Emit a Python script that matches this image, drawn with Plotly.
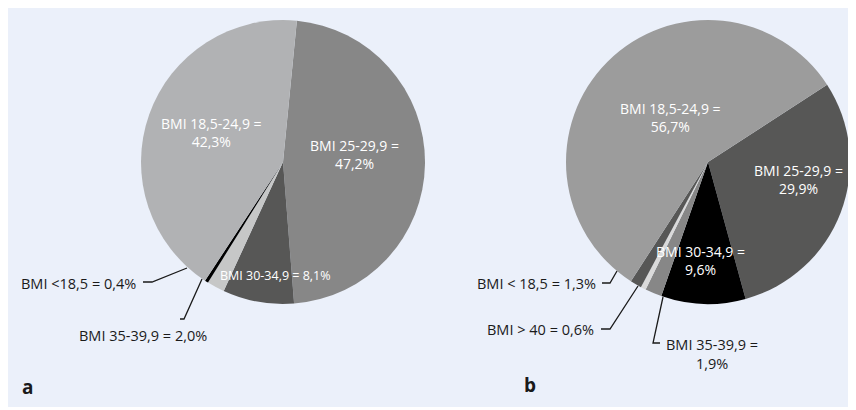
import plotly.graph_objects as go

OFF = 8  # page body margin offset
W, H = 856 - OFF, 410 - OFF

# ---- data ----
cats_a = ["BMI 25-29,9", "BMI 30-34,9", "BMI 35-39,9", "BMI <18,5", "BMI 18,5-24,9"]
vals_a = [47.2, 8.1, 2.0, 0.4, 42.3]
cols_a = ["#878787", "#575756", "#c6c7c7", "#000000", "#b1b2b4"]

cats_b = ["BMI 25-29,9", "BMI 30-34,9", "BMI 35-39,9", "BMI > 40", "BMI < 18,5", "BMI 18,5-24,9"]
vals_b = [29.9, 9.6, 1.9, 0.6, 1.3, 56.7]
cols_b = ["#575756", "#000000", "#878787", "#dadada", "#575756", "#9c9c9c"]

panel_labels = ["a", "b"]


def fmt(cat, v, br):
    return f"{cat} ={'<br>' if br else ' '}{v:.1f}%".replace(".", ",")


def px(x, y):
    return (x - OFF) / W, 1 - (y - OFF) / H


def dom(cx, cy, r):
    x0, y1 = px(cx - r, cy - r)
    x1, y0 = px(cx + r, cy + r)
    return dict(x=[x0, x1], y=[y0, y1])


fig = go.Figure()
fig.add_trace(go.Pie(values=vals_a, labels=cats_a, marker=dict(colors=cols_a, line=dict(width=0)),
                     sort=False, direction="clockwise", rotation=5.6, textinfo="none",
                     domain=dom(283, 162, 142), showlegend=False))
fig.add_trace(go.Pie(values=vals_b, labels=cats_b, marker=dict(colors=cols_b, line=dict(width=0)),
                     sort=False, direction="clockwise", rotation=57, textinfo="none",
                     domain=dom(708, 162, 142), showlegend=False))

FONT = "Open Sans"
annots = []


def add(text, x, y, color, size=14, xanchor="center", bold=False):
    xp, yp = px(x, y)
    annots.append(dict(text=f"<b>{text}</b>" if bold else text, x=xp, y=yp, xref="paper", yref="paper",
                       xanchor=xanchor, yanchor="middle", showarrow=False, align="center",
                       font=dict(family=FONT, size=size, color=color)))


# pie a labels
add(fmt(cats_a[4], vals_a[4], True), 211, 133, "white")
add(fmt(cats_a[0], vals_a[0], True), 354, 154, "white")
add(fmt(cats_a[1], vals_a[1], False), 275, 275, "white", size=12.5)
add(fmt(cats_a[3], vals_a[3], False), 138, 283, "#1a1a1a", size=14.5, xanchor="right")
add(fmt(cats_a[2], vals_a[2], False), 143, 335, "#1a1a1a", size=14.5)
# pie b labels
add(fmt(cats_b[5], vals_b[5], True), 670, 118, "white")
add(fmt(cats_b[0], vals_b[0], True), 798, 179, "white")
add(fmt(cats_b[1], vals_b[1], True), 700, 260, "white")
add(fmt(cats_b[4], vals_b[4], False), 598, 283, "#1a1a1a", size=14.5, xanchor="right")
add(fmt(cats_b[3], vals_b[3], False), 596, 329, "#1a1a1a", size=14.5, xanchor="right")
add(fmt(cats_b[2], vals_b[2], True), 712, 354, "#1a1a1a", size=14.5)
# panel letters
add(panel_labels[0], 27, 387, "#1a1a1a", size=19, bold=True)
add(panel_labels[1], 530, 385, "#1a1a1a", size=19, bold=True)


def path(pts):
    s = ""
    for i, (x, y) in enumerate(pts):
        xp, yp = px(x, y)
        s += ("M" if i == 0 else "L") + f"{xp},{yp} "
    return s.strip()


leaders = [
    [(143, 282), (152, 282), (187, 268)],
    [(180, 319), (184, 319), (202, 279)],
    [(602, 283), (610, 283), (617, 271)],
    [(601, 329), (610, 329), (638, 286)],
    [(663, 297), (653, 343), (660, 343)],
]
_, by0 = px(0, 407)
shapes = [dict(type="rect", xref="paper", yref="paper", x0=0, x1=1, y0=0, y1=by0,
               fillcolor="white", line=dict(width=0), layer="below")]
for pts in leaders:
    shapes.append(dict(type="path", xref="paper", yref="paper", path=path(pts),
                       line=dict(color="#1a1a1a", width=1.3)))

fig.update_layout(width=W, height=H, margin=dict(l=0, r=0, t=0, b=0), paper_bgcolor="#ebf0fa",
                  plot_bgcolor="#ebf0fa", annotations=annots, shapes=shapes, font=dict(family=FONT))
fig.write_html("out.html")
